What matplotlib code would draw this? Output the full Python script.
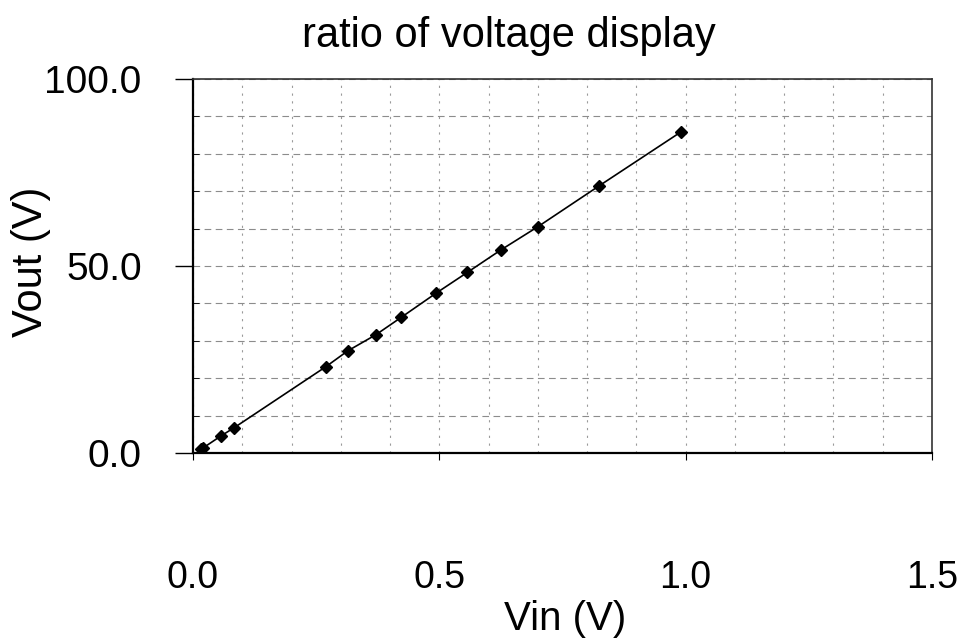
import matplotlib.pyplot as plt
import numpy as np
from matplotlib.ticker import MultipleLocator

# --- data ---
vin = [0.016, 0.021, 0.056, 0.084, 0.270, 0.314, 0.371, 0.423,
       0.493, 0.557, 0.625, 0.700, 0.824, 0.991]
vout = [1.0, 1.4, 4.5, 6.8, 23.1, 27.3, 31.6, 36.3,
        42.7, 48.3, 54.3, 60.5, 71.4, 85.9]

x_ticks = [0.0, 0.5, 1.0, 1.5]
y_ticks = [0.0, 50.0, 100.0]

plt.rcParams["font.family"] = ["Liberation Sans", "DejaVu Sans"]

W, H = 967, 642
fig = plt.figure(figsize=(W / 100, H / 100), dpi=100)
ax = fig.add_axes([193 / W, 1 - 453 / H, (932 - 193) / W, (453 - 79) / H])

ax.plot(vin, vout, c="black", lw=1.2, marker="D", ms=6.5, zorder=3)

ax.set_xlim(0, 1.5)
ax.set_ylim(0, 100)

ax.set_xticks(x_ticks)
ax.set_xticklabels([f"{v:.1f}" for v in x_ticks], fontsize=27)
ax.set_yticks(y_ticks)
ax.set_yticklabels([f"{v:.1f}" for v in y_ticks], fontsize=28)
ax.xaxis.set_minor_locator(MultipleLocator(0.1))
ax.yaxis.set_minor_locator(MultipleLocator(10))

ax.tick_params(axis="x", which="major", direction="out", length=5, pad=72, color="black")
ax.tick_params(axis="x", which="minor", direction="in", length=0)
ax.tick_params(axis="y", which="major", direction="out", length=13, width=1, pad=24)
ax.tick_params(axis="y", which="minor", direction="in", length=4)

# dotted Excel-style grid
ax.grid(True, which="both", axis="y", color="#8c8c8c", ls=(0, (6, 4)), lw=0.8)
ax.grid(True, which="both", axis="x", color="#9a9a9a", ls=(0, (2, 5)), lw=0.8)

for side in ["left", "bottom"]:
    ax.spines[side].set_linewidth(1.6)
for side in ["top", "right"]:
    ax.spines[side].set_linewidth(1.2)
    ax.spines[side].set_color("#333333")

# title and axis labels placed as in the scanned original
fig.text(509 / W, 1 - 47 / H, "ratio of voltage display", fontsize=30,
         ha="center", va="baseline")
fig.text(565 / W, 1 - 630 / H, "Vin (V)", fontsize=29, ha="center", va="baseline")
fig.text(31 / W, 1 - 262 / H, "Vout (V)", fontsize=30, rotation=90,
         ha="center", va="center")

fig.savefig("out.png", dpi=100)
